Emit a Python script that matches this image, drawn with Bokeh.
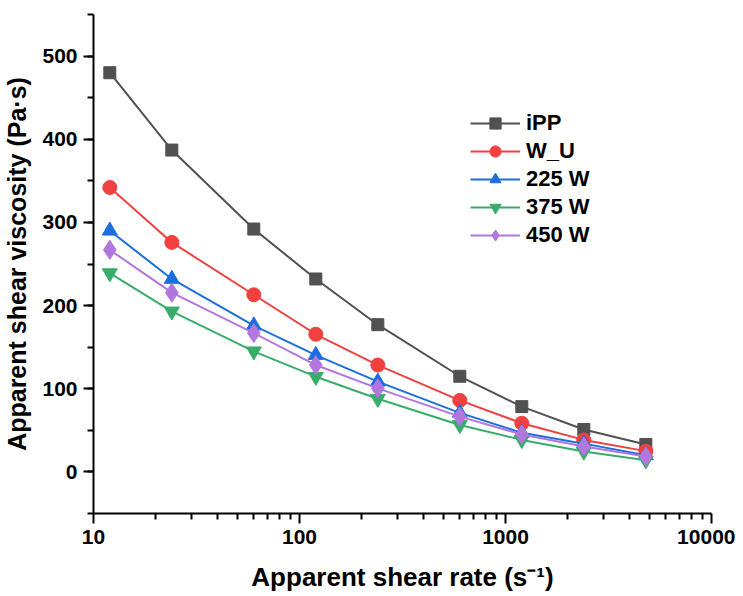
from bokeh.plotting import figure
from bokeh.models import FixedTicker, SingleIntervalTicker, Range1d, Legend
from bokeh.embed import file_html
from bokeh.resources import INLINE

shear_rate = [12, 24, 60, 120, 240, 600, 1200, 2400, 4800]
ipp = [480, 387, 292, 232, 177, 115, 78.5, 51, 33]
w_u = [342, 276, 213, 165.5, 128.5, 86, 58.5, 38.5, 25]
w225 = [290, 232, 176, 140.5, 108.5, 71, 47, 34, 20]
w375 = [239, 193, 145, 114.5, 88, 56.5, 38.5, 24.5, 14]
w450 = [267, 215.5, 167, 128.5, 100.5, 66.5, 45, 30.5, 18.5]

series_names = ["iPP", "W_U", "225 W", "375 W", "450 W"]
x_ticks = [10, 100, 1000, 10000]
x_minor = [20, 30, 40, 50, 60, 70, 80, 90, 200, 300, 400, 500, 600, 700, 800, 900,
           2000, 3000, 4000, 5000, 6000, 7000, 8000, 9000]

colors = ["#515151", "#F14040", "#1A6FDF", "#37AD6B", "#B177DE"]
markers = ["square", "circle", "triangle", "inverted_triangle", "diamond"]
sizes = [12, 14, 15, 15, 19]
ys = [ipp, w_u, w225, w375, w450]

FONT = "Liberation Sans"

p = figure(x_axis_type="log", output_backend="svg", toolbar_location=None,
           width=735, height=595,
           x_range=Range1d(10, 10000), y_range=Range1d(-50, 550),
           min_border_left=89, min_border_right=24, min_border_top=14, min_border_bottom=82)
p.outline_line_color = None
p.grid.visible = False
p.background_fill_color = "white"

legend_items = []
for name, y, c, m, s in zip(series_names, ys, colors, markers, sizes):
    r1 = p.line(shear_rate, y, line_color=c, line_width=2)
    r2 = p.scatter(shear_rate, y, marker=m, size=s, fill_color=c, line_color=c)
    legend_items.append((name, [r1, r2]))

legend = Legend(items=legend_items, location=(377, 264))
legend.border_line_color = None
legend.background_fill_alpha = 0
legend.padding = 0
legend.margin = 0
legend.spacing = 0
legend.glyph_width = 50
legend.glyph_height = 28
legend.label_height = 28
legend.label_standoff = 6
legend.label_text_font = FONT
legend.label_text_font_style = "bold"
legend.label_text_font_size = "22px"
legend.label_text_color = "black"
p.add_layout(legend, "center")

xa = p.xaxis[0]
xa.ticker = FixedTicker(ticks=x_ticks, minor_ticks=x_minor)
xa.major_label_overrides = {t: str(t) for t in x_ticks}
ya = p.yaxis[0]
ya.ticker = SingleIntervalTicker(interval=100, num_minor_ticks=2)

xa.axis_label = "Apparent shear rate (s\u207b\u00b9)"
ya.axis_label = "Apparent shear viscosity (Pa\u00b7s)"

for ax in (xa, ya):
    ax.axis_line_width = 2
    ax.axis_line_color = "black"
    ax.major_tick_line_width = 2
    ax.minor_tick_line_width = 2
    ax.major_tick_line_color = "black"
    ax.minor_tick_line_color = "black"
    ax.major_tick_in = 0
    ax.major_tick_out = 10
    ax.minor_tick_in = 0
    ax.minor_tick_out = 6
    ax.major_label_text_font = FONT
    ax.major_label_text_font_style = "bold"
    ax.major_label_text_font_size = "21px"
    ax.major_label_text_color = "black"
    ax.axis_label_text_font = FONT
    ax.axis_label_text_font_style = "bold"
    ax.axis_label_text_color = "black"

xa.axis_label_text_font_size = "26px"
ya.axis_label_text_font_size = "25px"
xa.major_label_standoff = 6
xa.axis_label_standoff = 15
ya.major_label_standoff = 6
ya.axis_label_standoff = 8

open("out.html", "w").write(file_html(p, INLINE))
